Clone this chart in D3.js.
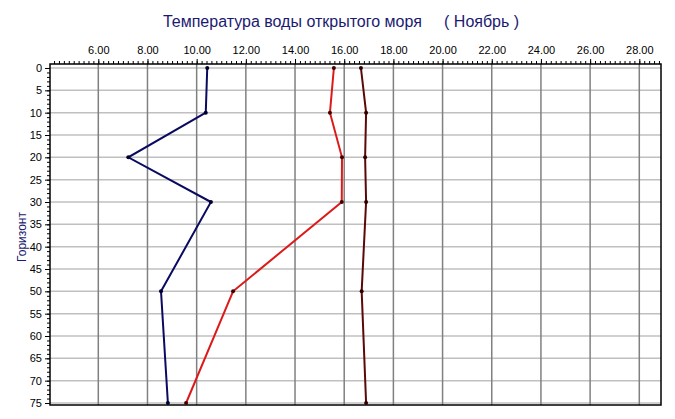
<!DOCTYPE html>
<html><head><meta charset="utf-8">
<script src="https://cdn.jsdelivr.net/npm/d3@7"></script>
<style>body{margin:0;background:#fff}svg{display:block}text{font-family:"Liberation Sans",Arial,sans-serif}</style>
</head><body><svg id="c" width="675" height="419"></svg>
<script>
const depths = [0, 10, 20, 30, 50, 75];
const seriesBlue = [10.43, 10.37, 7.22, 10.58, 8.55, 8.83];
const seriesRed = [15.58, 15.42, 15.91, 15.90, 11.48, 9.57];
const seriesDarkRed = [16.68, 16.89, 16.85, 16.89, 16.71, 16.89];
const xTicks = [6, 8, 10, 12, 14, 16, 18, 20, 22, 24, 26, 28];
const yTicks = [0, 5, 10, 15, 20, 25, 30, 35, 40, 45, 50, 55, 60, 65, 70, 75];
const titleText = "Температура воды открытого моря     ( Ноябрь )";
const yLabel = "Горизонт";

const svg = d3.select("#c");
const box = {l: 50, r: 661, t: 64, b: 405};
const x = d3.scaleLinear().domain([6, 28]).range([98.3, 639.3]);
const y = d3.scaleLinear().domain([0, 75]).range([68, 403]);

// grid
svg.append("g").selectAll("line").data(yTicks).join("line")
  .attr("x1", box.l).attr("x2", box.r).attr("y1", d => y(d)).attr("y2", d => y(d))
  .attr("stroke", "#c0c0c0").attr("stroke-width", 1.5);
svg.append("g").selectAll("line").data(xTicks).join("line")
  .attr("x1", d => x(d)).attr("x2", d => x(d)).attr("y1", box.t).attr("y2", box.b)
  .attr("stroke", "#808080").attr("stroke-width", 1.5);

// box
svg.append("rect").attr("x", box.l).attr("y", box.t).attr("width", box.r - box.l).attr("height", box.b - box.t)
  .attr("fill", "none").attr("stroke", "#000").attr("stroke-width", 1.5);

// top axis
const xMinor = d3.range(4.2, 28.9, 0.2);
const gx = svg.append("g").attr("transform", `translate(0,${box.t})`)
  .call(d3.axisTop(x).tickValues(xMinor).tickSize(3).tickFormat(""));
gx.select(".domain").remove();
gx.selectAll("line").attr("stroke", "#000");
const gx2 = svg.append("g").attr("transform", `translate(0,${box.t})`)
  .call(d3.axisTop(x).tickValues(xTicks).tickSize(5).tickPadding(5).tickFormat(d3.format(".2f")));
gx2.select(".domain").remove();
gx2.selectAll("line").attr("stroke", "#000");
gx2.selectAll("text").attr("font-size", 11).attr("fill", "#000").style("font-family", "'Liberation Sans',Arial,sans-serif");

// left axis
const yMinor = d3.range(0, 76, 1);
const gy = svg.append("g").attr("transform", `translate(${box.l},0)`)
  .call(d3.axisLeft(y).tickValues(yMinor).tickSize(3).tickFormat(""));
gy.select(".domain").remove();
gy.selectAll("line").attr("stroke", "#000");
const gy2 = svg.append("g").attr("transform", `translate(${box.l},0)`)
  .call(d3.axisLeft(y).tickValues(yTicks).tickSize(5).tickPadding(3));
gy2.select(".domain").remove();
gy2.selectAll("line").attr("stroke", "#000");
gy2.selectAll("text").attr("font-size", 11).attr("fill", "#000").style("font-family", "'Liberation Sans',Arial,sans-serif");

// title & label
svg.append("text").attr("x", 341).attr("y", 27).attr("text-anchor", "middle")
  .attr("font-size", 16).attr("fill", "#1a1a70").style("white-space", "pre").text(titleText);
svg.append("text").attr("transform", "translate(26,237) rotate(-90)").attr("text-anchor", "middle")
  .attr("font-size", 12).attr("fill", "#1a1a70").text(yLabel);

// series
const series = [
  {vals: seriesBlue, color: "#0a0a60", dot: "#000030"},
  {vals: seriesRed, color: "#dd1a1a", dot: "#400000"},
  {vals: seriesDarkRed, color: "#5a0808", dot: "#300000"}
];
const line = d3.line().x(d => x(d[0])).y(d => y(d[1]));
series.forEach(s => {
  const pts = depths.map((dp, i) => [s.vals[i], dp]);
  svg.append("path").attr("d", line(pts)).attr("fill", "none").attr("stroke", s.color).attr("stroke-width", 2);
  svg.append("g").selectAll("circle").data(pts).join("circle")
    .attr("cx", d => x(d[0])).attr("cy", d => y(d[1])).attr("r", 2).attr("fill", s.dot);
});
</script></body></html>
